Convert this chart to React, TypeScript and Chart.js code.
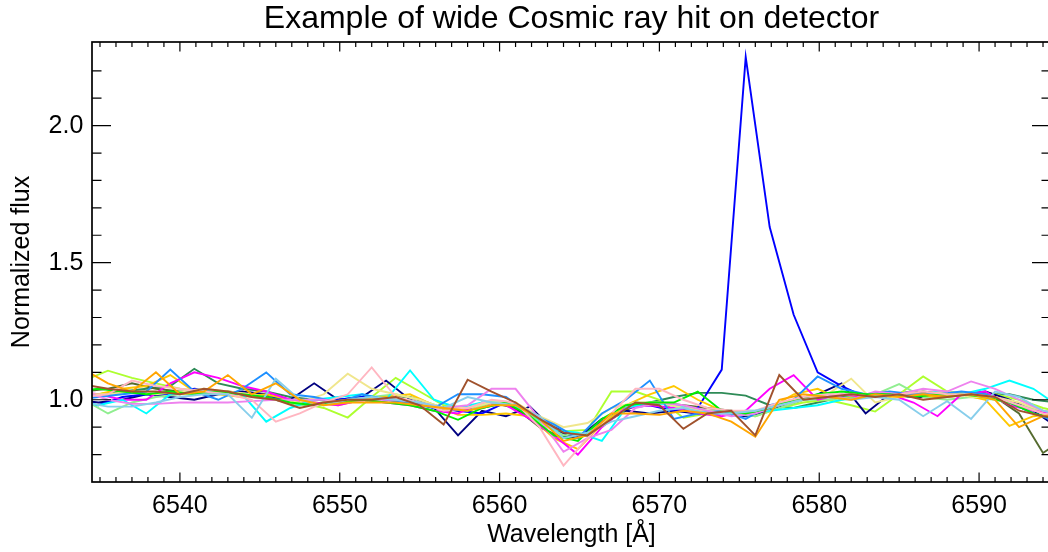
import React, { useEffect, useRef } from 'react';
import { Chart, registerables } from 'chart.js';

Chart.register(...registerables);

// Wavelength grids (Å) of the spectra
const wavelengthA = [
  6534.0, 6535.5, 6537.0, 6538.5, 6540.0, 6541.5, 6543.0, 6544.5, 6546.0, 6547.5,
  6549.0, 6550.5, 6552.0, 6553.5, 6555.0, 6556.5, 6558.0, 6559.5, 6561.0, 6562.5,
  6564.0, 6565.5, 6567.0, 6568.5, 6570.0, 6571.5, 6573.0, 6574.5, 6576.0, 6577.5,
  6579.0, 6580.5, 6582.0, 6583.5, 6585.0, 6586.5, 6588.0, 6589.5, 6591.0, 6592.5,
  6594.0, 6595.5,
];
const wavelengthB = [
  6533.4, 6534.9, 6536.4, 6537.9, 6539.4, 6540.9, 6542.4, 6543.9, 6545.4, 6546.9,
  6548.4, 6549.9, 6551.4, 6552.9, 6554.4, 6555.9, 6557.4, 6558.9, 6560.4, 6561.9,
  6563.4, 6564.9, 6566.4, 6567.9, 6569.4, 6570.9, 6572.4, 6573.9, 6575.4, 6576.9,
  6578.4, 6579.9, 6581.4, 6582.9, 6584.4, 6585.9, 6587.4, 6588.9, 6590.4, 6591.9,
  6593.4, 6594.9,
];

// Normalized flux of each spectrum
const fluxNavy = [
  1.00, 0.99, 1.00, 1.02, 1.01, 1.00, 1.02, 1.03, 1.02, 1.00,
  1.06, 1.00, 1.01, 1.07, 1.00, 0.97, 0.87, 0.96, 0.94, 0.975,
  0.89, 0.86, 0.93, 0.96, 0.95, 0.96, 0.95, 0.95, 0.94, 0.96,
  0.99, 1.02, 1.06, 0.95, 1.02, 1.01, 1.01, 1.02, 1.03, 1.00,
  0.96, 0.90,
];
const fluxBlue = [
  0.99, 0.98, 1.01, 1.02, 1.02, 1.04, 1.03, 1.02, 1.01, 1.00,
  0.98, 1.00, 1.01, 1.00, 0.99, 0.97, 0.96, 0.95, 0.99, 0.95,
  0.90, 0.86, 0.92, 0.97, 0.98, 0.96, 0.97, 1.11, 2.25, 1.63,
  1.31, 1.10, 1.05, 1.01, 1.02, 1.01, 1.02, 1.02, 1.01, 0.99,
  0.95, 0.93,
];
const fluxDodger = [
  1.00, 1.01, 1.02, 1.03, 1.11, 1.03, 1.00, 1.04, 1.10, 1.02,
  1.01, 0.99, 1.02, 1.00, 0.99, 0.97, 1.02, 1.02, 1.01, 0.95,
  0.91, 0.86, 0.95, 1.00, 1.07, 0.93, 0.95, 0.96, 0.93, 0.98,
  1.00, 1.085, 1.04, 1.02, 1.03, 1.02, 1.02, 1.03, 1.02, 0.99,
  0.95, 0.92,
];
const fluxCyan = [
  1.00, 0.98, 1.00, 0.95, 1.02, 1.03, 1.03, 1.02, 0.92, 0.97,
  1.00, 1.01, 1.02, 1.00, 1.107, 1.00, 0.97, 0.99, 0.99, 0.95,
  0.89, 0.88, 0.85, 0.97, 0.99, 0.98, 0.96, 0.95, 0.96, 0.96,
  0.97, 0.98, 1.00, 1.01, 1.02, 1.01, 1.03, 1.02, 1.04, 1.07,
  1.04, 0.98,
];
const fluxSkyBlue = [
  0.99, 0.975, 0.975, 0.99, 1.01, 1.02, 1.02, 0.934, 1.077, 1.00,
  0.98, 1.00, 1.01, 1.00, 0.99, 0.97, 1.01, 0.99, 0.98, 0.94,
  0.86, 0.88, 0.92, 0.94, 0.96, 0.97, 0.95, 0.95, 0.96, 0.98,
  1.00, 1.01, 1.00, 1.01, 1.00, 0.94, 0.995, 0.93, 1.03, 1.01,
  0.96, 0.94,
];
const fluxMagenta = [
  1.03, 1.02, 1.00, 1.00, 1.06, 1.10, 1.08, 1.05, 1.03, 1.00,
  0.99, 0.98, 1.00, 0.99, 0.98, 0.96, 0.95, 0.99, 0.98, 0.93,
  0.87, 0.80, 0.90, 0.97, 0.98, 0.97, 0.95, 0.94, 0.96, 1.04,
  1.09, 1.00, 1.02, 1.01, 1.02, 0.99, 0.94, 1.02, 1.03, 0.98,
  0.96, 0.95,
];
const fluxViolet = [
  1.03, 1.00, 0.985, 0.985, 0.99, 0.99, 0.99, 0.995, 1.00, 1.00,
  1.00, 0.99, 1.00, 1.00, 0.99, 0.97, 0.98, 1.04, 1.04, 0.93,
  0.81, 0.86, 0.89, 0.97, 0.99, 0.98, 0.96, 0.94, 0.95, 0.98,
  1.01, 1.02, 1.00, 1.03, 1.02, 1.04, 1.03, 1.067, 1.04, 1.00,
  0.96, 0.94,
];
const fluxPink = [
  1.01, 1.02, 1.07, 1.05, 1.04, 1.03, 1.02, 1.00, 0.92, 0.95,
  0.99, 1.02, 1.118, 1.01, 0.99, 0.96, 0.97, 1.00, 0.99, 0.90,
  0.76, 0.86, 0.95, 1.04, 1.04, 1.00, 0.97, 0.96, 0.96, 0.99,
  1.01, 1.02, 1.02, 1.01, 1.02, 1.03, 1.02, 1.02, 1.01, 0.98,
  0.95, 0.93,
];
const fluxSienna = [
  1.055, 1.04, 1.03, 1.03, 1.02, 1.04, 1.03, 1.01, 1.00, 0.97,
  0.99, 1.00, 1.00, 1.01, 0.98, 0.91, 1.073, 1.03, 0.99, 0.93,
  0.88, 0.87, 0.93, 0.99, 0.98, 0.894, 0.95, 0.96, 0.87, 1.09,
  1.00, 1.01, 1.02, 1.01, 1.02, 1.00, 1.01, 1.02, 1.01, 0.96,
  0.94, 0.93,
];
const fluxOrange = [
  1.11, 1.06, 1.03, 1.10, 1.02, 1.03, 1.09, 1.02, 1.06, 1.00,
  0.98, 0.99, 0.99, 0.99, 0.98, 0.97, 0.96, 0.98, 0.98, 0.93,
  0.85, 0.87, 0.95, 0.95, 0.945, 0.96, 0.95, 0.92, 0.865, 1.00,
  1.02, 1.01, 1.00, 1.02, 1.01, 1.02, 1.01, 1.02, 1.00, 0.90,
  0.94, 0.95,
];
const fluxGold = [
  1.01, 1.02, 1.04, 1.05, 1.09, 1.03, 1.02, 1.01, 1.02, 1.00,
  0.99, 0.98, 1.00, 1.01, 1.02, 0.98, 0.945, 0.945, 0.95, 0.94,
  0.86, 0.82, 0.91, 0.98, 1.02, 1.05, 1.00, 0.96, 0.95, 0.97,
  1.02, 1.04, 1.00, 1.02, 1.01, 1.02, 1.01, 1.02, 1.00, 0.905,
  0.94, 0.95,
];
const fluxKhaki = [
  1.02, 1.02, 1.03, 1.02, 1.03, 1.04, 1.03, 1.02, 1.00, 0.99,
  1.02, 1.095, 1.04, 1.02, 1.00, 0.97, 0.97, 0.99, 0.99, 0.94,
  0.90, 0.915, 0.97, 0.99, 0.99, 0.97, 0.96, 0.95, 0.96, 0.98,
  1.00, 1.02, 1.077, 0.99, 1.01, 1.02, 1.03, 1.01, 1.01, 0.99,
  0.96, 0.95,
];
const fluxLime = [
  1.03, 1.04, 1.03, 1.02, 1.03, 1.02, 1.03, 1.02, 1.01, 0.99,
  0.98, 0.99, 1.00, 0.99, 0.98, 0.96, 0.927, 0.97, 0.99, 0.94,
  0.87, 0.85, 0.93, 0.98, 0.99, 0.99, 1.03, 0.96, 0.95, 0.97,
  1.00, 1.02, 1.03, 1.02, 1.02, 1.01, 1.02, 1.02, 1.01, 0.99,
  0.95, 0.93,
];
const fluxGreenYellow = [
  1.07, 1.106, 1.08, 1.06, 1.04, 1.03, 1.02, 1.02, 1.01, 0.99,
  0.97, 0.935, 1.01, 1.08, 1.03, 0.98, 0.97, 0.99, 0.99, 0.93,
  0.885, 0.89, 1.03, 1.03, 1.00, 0.934, 0.95, 0.95, 0.94, 0.97,
  0.99, 1.00, 0.98, 0.957, 1.02, 1.085, 1.03, 1.02, 1.02, 1.00,
  0.97, 0.95,
];
const fluxLightGreen = [
  1.00, 0.95, 0.99, 1.01, 1.02, 1.03, 1.03, 1.01, 1.00, 0.98,
  0.99, 1.00, 1.01, 1.02, 1.00, 0.97, 0.96, 0.99, 0.98, 0.92,
  0.87, 0.88, 0.94, 0.99, 0.99, 0.97, 0.96, 0.95, 0.94, 0.97,
  1.00, 1.00, 1.01, 1.02, 1.057, 1.01, 1.00, 1.01, 1.00, 0.98,
  0.96, 0.95,
];
const fluxSeaGreen = [
  1.01, 1.02, 1.03, 1.04, 1.05, 1.113, 1.06, 1.04, 1.03, 1.01,
  1.00, 1.00, 1.00, 1.01, 1.01, 0.98, 0.96, 0.97, 0.99, 0.93,
  0.87, 0.86, 0.92, 0.97, 0.99, 1.01, 1.025, 1.025, 1.015, 0.98,
  0.97, 0.99, 1.01, 1.02, 1.02, 1.03, 1.02, 1.02, 1.02, 1.02,
  1.00, 0.99,
];
const fluxDarkOlive = [
  1.03, 1.04, 1.06, 1.04, 1.03, 1.02, 1.03, 1.02, 1.00, 0.98,
  0.99, 1.00, 1.01, 1.00, 0.99, 0.97, 0.96, 0.99, 0.97, 0.90,
  0.86, 0.87, 0.93, 0.98, 0.99, 0.98, 0.97, 0.96, 0.95, 0.97,
  1.00, 1.01, 1.02, 1.02, 1.02, 1.03, 1.02, 1.02, 1.01, 0.95,
  0.806, 0.865,
];

const seriesColors = [
  '#A0522D', '#FFA500', '#87CEEB', '#FFB6C1', '#00F000', '#EE82EE', '#1E90FF', '#F0E68C',
  '#00FFFF', '#FF00FF', '#FFC800', '#90EE90', '#0000FF', '#000080', '#ADFF2F', '#556B2F', '#2E8B57',
];
const seriesGrids = [
  wavelengthA, wavelengthA, wavelengthA, wavelengthA, wavelengthB, wavelengthA, wavelengthB, wavelengthA,
  wavelengthB, wavelengthB, wavelengthB, wavelengthA, wavelengthB, wavelengthB, wavelengthA, wavelengthA, wavelengthB,
];
const seriesFlux = [
  fluxSienna, fluxOrange, fluxSkyBlue, fluxPink, fluxLime, fluxViolet, fluxDodger, fluxKhaki,
  fluxCyan, fluxMagenta, fluxGold, fluxLightGreen, fluxBlue, fluxNavy, fluxGreenYellow, fluxDarkOlive, fluxSeaGreen,
];

const xTickLabels = [6540, 6550, 6560, 6570, 6580, 6590];
const yTickLabels = [1.0, 1.5, 2.0];
const X_MIN = 6534.5;
const X_MAX = 6594.5;
const Y_MIN = 0.7;
const Y_MAX = 2.305;

const FONT = "'Liberation Sans', Arial, Helvetica, sans-serif";

const idlFrame = {
  id: 'idlFrame',
  afterDatasetsDraw(chart: any) {
    const { ctx, chartArea: a, scales } = chart;
    const x = scales.x;
    const y = scales.y;
    ctx.save();
    ctx.strokeStyle = '#000';
    ctx.lineWidth = 1.7;
    ctx.strokeRect(a.left, a.top, a.right - a.left, a.bottom - a.top);
    ctx.lineWidth = 1.2;
    ctx.beginPath();
    for (let v = Math.ceil(X_MIN); v <= Math.floor(X_MAX); v++) {
      const px = x.getPixelForValue(v);
      const len = v % 10 === 0 ? 9.5 : 5;
      ctx.moveTo(px, a.bottom);
      ctx.lineTo(px, a.bottom - len);
      ctx.moveTo(px, a.top);
      ctx.lineTo(px, a.top + len);
    }
    for (let k = 8; k <= 22; k++) {
      const py = y.getPixelForValue(k / 10);
      const len = k % 5 === 0 ? 19 : 9.5;
      ctx.moveTo(a.left, py);
      ctx.lineTo(a.left + len, py);
      ctx.moveTo(a.right, py);
      ctx.lineTo(a.right - len, py);
    }
    ctx.stroke();
    ctx.restore();
  },
};

export default function App() {
  const ref = useRef<HTMLCanvasElement>(null);
  useEffect(() => {
    const datasets = seriesFlux.map((flux, s) => ({
      label: 'spectrum ' + (s + 1),
      data: flux.map((f, i) => ({ x: seriesGrids[s][i], y: f })),
      borderColor: seriesColors[s],
      backgroundColor: seriesColors[s],
      borderWidth: 1.9,
      pointRadius: 0,
      tension: 0,
      fill: false,
    }));
    const chart = new Chart(ref.current as HTMLCanvasElement, {
      type: 'line',
      data: { datasets },
      options: {
        animation: false,
        responsive: false,
        devicePixelRatio: 1,
        layout: { padding: 0 },
        plugins: {
          legend: { display: false },
          tooltip: { enabled: false },
          title: {
            display: true,
            text: 'Example of wide Cosmic ray hit on detector',
            color: '#000',
            fullSize: false,
            font: { size: 32, family: FONT, weight: 'normal' },
            padding: { top: 0, bottom: 3.6 },
          },
        },
        scales: {
          x: {
            type: 'linear',
            min: X_MIN,
            max: X_MAX,
            afterBuildTicks: (scale: any) => {
              scale.ticks = xTickLabels.map((v) => ({ value: v }));
            },
            afterFit: (scale: any) => {
              scale.height = 70;
            },
            grid: { display: false, drawTicks: false },
            border: { display: false },
            ticks: {
              color: '#000',
              font: { size: 25, family: FONT },
              padding: 9,
              maxRotation: 0,
              autoSkip: false,
              callback: (v: any) => String(v),
            },
            title: {
              display: true,
              text: 'Wavelength [Å]',
              color: '#000',
              font: { size: 25, family: FONT },
              padding: { top: 0, bottom: 1.4 },
            },
          },
          y: {
            type: 'linear',
            min: Y_MIN,
            max: Y_MAX,
            afterBuildTicks: (scale: any) => {
              scale.ticks = yTickLabels.map((v) => ({ value: v }));
            },
            afterFit: (scale: any) => {
              scale.width = 92;
            },
            grid: { display: false, drawTicks: false },
            border: { display: false },
            ticks: {
              color: '#000',
              font: { size: 25, family: FONT },
              padding: 8.7,
              autoSkip: false,
              callback: (v: any) => Number(v).toFixed(1),
            },
            title: {
              display: true,
              text: 'Normalized flux',
              color: '#000',
              font: { size: 25, family: FONT },
              padding: { top: 7, bottom: 0 },
            },
          },
        },
      } as any,
      plugins: [idlFrame],
    });
    return () => chart.destroy();
  }, []);
  return (
    <div
      style={{
        position: 'absolute',
        left: 0,
        top: 0,
        width: 1048,
        height: 552,
        overflow: 'hidden',
        background: '#fff',
      }}
    >
      <canvas ref={ref} width={1051} height={552} style={{ display: 'block', width: 1051, height: 552 }} />
    </div>
  );
}
